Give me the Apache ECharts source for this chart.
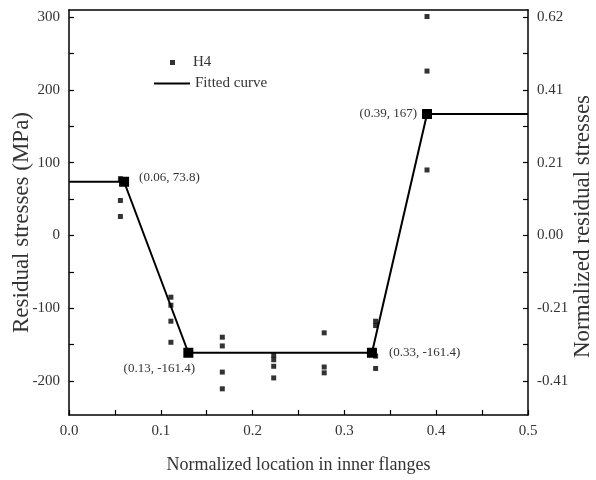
<!DOCTYPE html>
<html>
<head>
<meta charset="utf-8">
<script src="https://cdn.jsdelivr.net/npm/echarts@6/dist/echarts.min.js"></script>
<style>
  html, body { margin: 0; padding: 0; background: #fff; }
  #chart { width: 596px; height: 480px; }
</style>
</head>
<body>
<div id="chart"></div>
<script>
// puntos medidos (H4)
const h4X = [0.056, 0.056, 0.056,
  0.111, 0.111, 0.111, 0.111,
  0.167, 0.167, 0.167, 0.167,
  0.223, 0.223, 0.223, 0.223,
  0.278, 0.278, 0.278,
  0.334, 0.334, 0.334, 0.334,
  0.39, 0.39, 0.39];
const h4Y = [78, 48, 26,
  -85, -96, -118, -147,
  -140, -152, -188, -211,
  -165, -171, -180, -196,
  -134, -181, -189,
  -118, -124, -166, -183,
  301, 226, 90];

// curva ajustada (tramos rectos)
const fitX = [0, 0.06, 0.13, 0.33, 0.39, 0.5];
const fitY = [73.8, 73.8, -161.4, -161.4, 167, 167];

// ticks
const leftTicks = [-200, -100, 0, 100, 200, 300];
const leftMinor = [-200, -150, -100, -50, 0, 50, 100, 150, 200, 250, 300];
const rightTickLabels = ['-0.41', '-0.21', '0.00', '0.21', '0.41', '0.62'];

const FONT = '"Liberation Serif", "Times New Roman", serif';
const TXT = '#333';

// etiquetas de los puntos de quiebre (solo índices 1..4)
const labelCfg = {
  1: { position: 'right', distance: 10, offset: [0, -4] },
  2: { position: 'bottom', distance: 4, offset: [-29, 0] },
  3: { position: 'right', distance: 12, offset: [0, 0] },
  4: { position: 'left', distance: 5, offset: [0, 0] }
};

const fitData = fitX.map((x, i) => {
  const isBreak = i > 0 && i < fitX.length - 1;
  const item = { value: [x, fitY[i]], symbolSize: isBreak ? 10 : 0 };
  if (isBreak) {
    item.label = Object.assign({
      show: true,
      formatter: p => `(${p.value[0]}, ${p.value[1]})`,
      color: TXT, fontFamily: FONT, fontSize: 13
    }, labelCfg[i]);
  }
  return item;
});

const chart = echarts.init(document.getElementById('chart'));
const yMin = -247, yMax = 310;
const axisLn = { show: true, onZero: false, lineStyle: { color: '#000', width: 1.5 } };

const option = {
  backgroundColor: '#fff',
  animation: false,
  grid: { left: 69, right: 68, top: 10, bottom: 65, containLabel: false, outerBoundsMode: 'none' },
  legend: [
    {
      data: ['H4'], icon: 'rect', itemWidth: 5, itemHeight: 5,
      left: 165, top: 50, orient: 'vertical',
      textStyle: { color: TXT, fontFamily: FONT, fontSize: 15, padding: [0, 0, 0, 13] }
    },
    {
      data: [{ name: 'Fitted curve', icon: 'path://M0,0L36,0L36,2L0,2Z' }],
      itemWidth: 36, itemHeight: 2,
      left: 149, top: 71, orient: 'vertical',
      textStyle: { color: TXT, fontFamily: FONT, fontSize: 15 }
    }
  ],
  xAxis: [
    {
      type: 'value', min: 0, max: 0.5, interval: 0.1,
      name: 'Normalized location in inner flanges',
      nameLocation: 'middle', nameGap: 41, nameMoveOverlap: false,
      nameTextStyle: { color: TXT, fontFamily: FONT, fontSize: 18 },
      axisLine: axisLn,
      axisTick: { inside: true, length: 5, lineStyle: { color: '#000', width: 1.2 } },
      minorTick: { show: true, splitNumber: 2, length: 5, lineStyle: { color: '#000', width: 1.2 } },
      axisLabel: { color: TXT, fontFamily: FONT, fontSize: 15, margin: 9, formatter: v => v.toFixed(1) },
      splitLine: { show: false }
    },
    {
      type: 'value', min: 0, max: 0.5, position: 'top',
      axisLine: axisLn,
      axisTick: { show: false }, axisLabel: { show: false }, splitLine: { show: false }
    }
  ],
  yAxis: [
    {
      type: 'value', min: yMin, max: yMax, position: 'left',
      name: 'Residual stresses (MPa)',
      nameLocation: 'middle', nameGap: 36, nameRotate: 90, nameMoveOverlap: false,
      nameTextStyle: { color: TXT, fontFamily: FONT, fontSize: 23, padding: [0, 20, 0, 0] },
      axisLine: axisLn,
      axisTick: { inside: true, length: 5, customValues: leftMinor, lineStyle: { color: '#000', width: 1.2 } },
      axisLabel: { color: TXT, fontFamily: FONT, fontSize: 15, margin: 9, customValues: leftTicks },
      splitLine: { show: false }
    },
    {
      type: 'value', min: yMin, max: yMax, position: 'right',
      name: 'Normalized residual stresses',
      nameLocation: 'middle', nameGap: 43, nameRotate: 90, nameMoveOverlap: false,
      nameTextStyle: { color: TXT, fontFamily: FONT, fontSize: 23, padding: [0, 28, 0, 0] },
      axisLine: axisLn,
      axisTick: { inside: true, length: 5, customValues: leftMinor, lineStyle: { color: '#000', width: 1.2 } },
      axisLabel: {
        color: TXT, fontFamily: FONT, fontSize: 15, margin: 9, customValues: leftTicks,
        formatter: v => rightTickLabels[leftTicks.indexOf(v)]
      },
      splitLine: { show: false }
    }
  ],
  series: [
    {
      name: 'H4', type: 'scatter', symbol: 'rect', symbolSize: 5,
      itemStyle: { color: '#000' },
      data: h4X.map((x, i) => [x, h4Y[i]]),
      z: 3
    },
    {
      name: 'Fitted curve', type: 'line', symbol: 'rect',
      lineStyle: { color: '#000', width: 2 },
      itemStyle: { color: '#000' },
      data: fitData,
      z: 4
    }
  ]
};

chart.setOption(option);
</script>
</body>
</html>
